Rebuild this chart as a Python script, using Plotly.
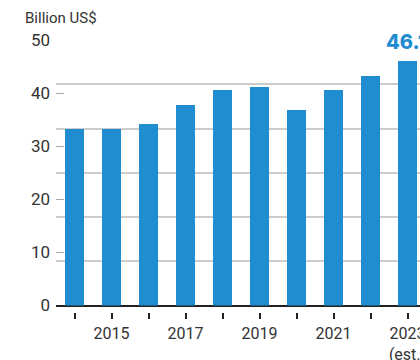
import plotly.graph_objects as go

# Annual values, billion US$
years = ["2014", "2015", "2016", "2017", "2018", "2019", "2020", "2021", "2022", "2023"]
values = [33.2, 33.2, 34.2, 37.8, 40.6, 41.2, 36.8, 40.6, 43.2, 46.1]
tick_text = ["", "2015", "", "2017", "", "2019", "", "2021", "", "2023<br>(est.)"]
y_ticks = [0, 10, 20, 30, 40, 50]
highlight_label = f"{values[-1]:.1f}"

BLUE = "#1f8dcf"
TEXT = "#333333"
FONT = "Roboto"

W, H = 420, 360
M_L, M_R, M_T, M_B = 56, 0, 40, 20
paper_h = H - M_T - M_B
plot_bottom_px = 305.5
axis_px = 311.5
dom_bottom = (H - M_B - plot_bottom_px) / paper_h
axis_pos = (H - M_B - axis_px) / paper_h

x = list(range(len(years)))

fig = go.Figure()
fig.add_trace(go.Bar(
    x=x, y=values, marker=dict(color=BLUE, line=dict(width=0)),
    width=0.54, hoverinfo="skip", showlegend=False, yaxis="y",
))
# invisible trace on the grid axis so it gets drawn
fig.add_trace(go.Scatter(x=[x[0]], y=[0], yaxis="y2", mode="markers",
                         marker=dict(opacity=0), showlegend=False, hoverinfo="skip"))

fig.add_annotation(
    x=x[-1], y=values[-1], xref="x", yref="y", text=highlight_label,
    showarrow=False, xanchor="center", yanchor="bottom", yshift=5, xshift=-2,
    font=dict(family="Inter", size=20, weight=800, color=BLUE),
)
fig.add_annotation(
    x=(23 - M_L) / (W - M_L - M_R), y=(H - M_B - 18) / paper_h,
    xref="paper", yref="paper", xanchor="left", yanchor="middle",
    text="Billion US$", showarrow=False,
    font=dict(family=FONT, size=15, color=TEXT),
)

fig.update_layout(
    width=W, height=H,
    margin=dict(l=M_L, r=M_R, t=M_T, b=M_B, pad=0, autoexpand=False),
    paper_bgcolor="white", plot_bgcolor="white",
    font=dict(family=FONT, color=TEXT),
    bargap=0,
    xaxis=dict(
        range=[-0.5, -0.5 + (W - M_L - M_R) / 37.0],
        tickvals=x, ticktext=tick_text, automargin=False,
        anchor="free", position=axis_pos,
        showline=False, showgrid=False, zeroline=False,
        ticks="outside", ticklen=6, tickwidth=1.5, tickcolor="#222222",
        tickfont=dict(family=FONT, size=16, color=TEXT),
        ticklabelstandoff=1, ticklabeloverflow="allow",
    ),
    yaxis=dict(
        domain=[dom_bottom, 1], range=[0, 50], automargin=False,
        tickvals=y_ticks, ticks="inside", ticklen=8, tickwidth=1, tickcolor="#aaaaaa",
        showgrid=False, showline=False,
        zeroline=True, zerolinecolor="#222222", zerolinewidth=2,
        tickfont=dict(family=FONT, size=17, color=TEXT),
        ticklabelstandoff=5,
    ),
    yaxis2=dict(
        domain=[dom_bottom, 1], range=[0, 50], overlaying="y", automargin=False,
        dtick=50 / 6, tick0=0, showgrid=True, gridcolor="#cccccc", gridwidth=1.5,
        showticklabels=False, zeroline=False, showline=False,
    ),
)

fig.write_html("out.html")
